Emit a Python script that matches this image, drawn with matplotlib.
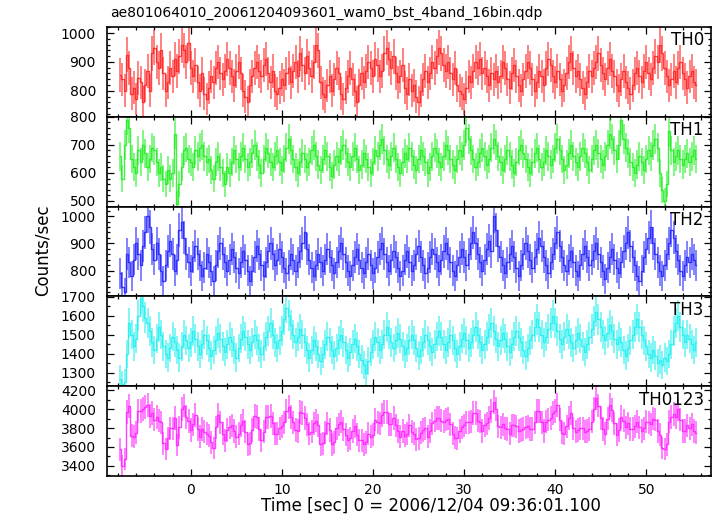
import numpy as np
import matplotlib
matplotlib.use("Agg")
import matplotlib.pyplot as plt
from matplotlib.ticker import MultipleLocator

# light curve, 0.25 s bins, times relative to 2006/12/04 09:36:01.100
t_start = -7.75
bin_size = 0.25

th0 = [855, 840, 800, 925, 880, 790, 810, 770, 845, 830,
       760, 820, 870, 800, 930, 950, 900, 880, 940, 860,
       800, 830, 880, 850, 910, 870, 920, 960, 940, 900,
       965, 880, 850, 890, 830, 800, 860, 790, 770, 810,
       850, 830, 880, 900, 860, 840, 870, 910, 880, 850,
       820, 870, 900, 860, 800, 780, 760, 820, 850, 880,
       900, 870, 850, 890, 910, 860, 830, 870, 800, 790,
       810, 840, 820, 860, 880, 830, 870, 900, 850, 930,
       890, 860, 920, 880, 850, 900, 960, 940, 830, 790,
       780, 820, 850, 800, 840, 880, 860, 790, 770, 810,
       850, 880, 840, 800, 760, 820, 860, 830, 870, 900,
       880, 850, 910, 890, 850, 870, 930, 950, 910, 880,
       920, 860, 830, 850, 890, 810, 790, 840, 800, 820,
       780, 760, 800, 840, 870, 830, 860, 900, 880, 920,
       950, 930, 890, 870, 900, 860, 840, 880, 820, 800,
       790, 770, 810, 850, 830, 870, 900, 880, 910, 860,
       880, 850, 820, 860, 840, 870, 830, 850, 900, 880,
       840, 810, 860, 890, 850, 820, 800, 840, 870, 900,
       880, 840, 800, 830, 870, 850, 820, 880, 910, 890,
       850, 830, 870, 840, 800, 820, 860, 900, 930, 880,
       850, 870, 840, 810, 790, 830, 870, 850, 880, 900,
       930, 890, 860, 840, 880, 910, 870, 850, 820, 800,
       840, 870, 830, 810, 790, 820, 860, 880, 850, 830,
       870, 900, 860, 840, 880, 920, 900, 960, 930, 880,
       850, 820, 840, 870, 830, 880, 900, 860, 840, 810,
       850, 870, 830, 820]

th1 = [660, 580, 700, 790, 760, 650, 620, 600, 680, 640,
       700, 670, 620, 650, 690, 680, 640, 600, 620, 580,
       560, 610, 580, 600, 740, 490, 560, 620, 680, 690,
       650, 640, 620, 680, 660, 690, 700, 660, 640, 650,
       610, 580, 640, 660, 620, 600, 560, 620, 600, 640,
       680, 650, 620, 660, 690, 650, 620, 640, 670, 700,
       660, 630, 600, 650, 690, 670, 640, 620, 660, 680,
       640, 610, 650, 690, 720, 680, 650, 620, 600, 640,
       670, 650, 620, 640, 680, 700, 660, 630, 610, 650,
       680, 660, 620, 590, 630, 660, 640, 680, 700, 670,
       640, 620, 660, 690, 650, 610, 630, 670, 650, 620,
       600, 640, 680, 660, 700, 720, 680, 650, 630, 660,
       690, 650, 620, 600, 640, 670, 650, 690, 660, 630,
       610, 650, 680, 660, 640, 600, 620, 660, 690, 670,
       640, 620, 660, 700, 680, 650, 630, 610, 650, 680,
       660, 700, 760, 720, 680, 650, 620, 640, 670, 690,
       660, 630, 650, 690, 720, 700, 660, 640, 610, 650,
       680, 660, 630, 600, 640, 680, 700, 670, 650, 620,
       600, 640, 670, 690, 650, 620, 640, 680, 660, 630,
       650, 690, 720, 680, 650, 610, 630, 670, 700, 660,
       640, 620, 660, 690, 670, 640, 610, 650, 680, 700,
       670, 650, 630, 660, 700, 740, 720, 680, 650, 700,
       790, 720, 690, 670, 640, 620, 600, 630, 660, 640,
       610, 650, 680, 660, 700, 720, 690, 600, 540, 500,
       560, 750, 680, 640, 660, 680, 650, 630, 650, 670,
       640, 660, 680, 650]

th2 = [790, 740, 720, 860, 830, 780, 840, 900, 860, 820,
       890, 940, 1000, 960, 880, 840, 900, 860, 800, 760,
       820, 870, 910, 860, 800, 840, 950, 980, 920, 860,
       830, 800, 850, 890, 860, 820, 780, 810, 860, 830,
       800, 760, 820, 870, 900, 860, 830, 800, 840, 880,
       850, 810, 790, 830, 870, 840, 800, 760, 800, 850,
       890, 860, 820, 780, 830, 870, 900, 860, 820, 840,
       880, 850, 810, 790, 820, 860, 840, 800, 830, 870,
       900, 940, 880, 840, 810, 780, 820, 860, 830, 800,
       840, 880, 850, 820, 790, 830, 870, 900, 860, 830,
       800, 780, 820, 850, 880, 840, 810, 790, 830, 860,
       820, 790, 810, 850, 880, 900, 860, 830, 800, 840,
       870, 850, 810, 780, 800, 840, 870, 830, 800, 820,
       860, 890, 850, 820, 790, 810, 850, 880, 860, 830,
       800, 840, 870, 900, 860, 830, 800, 780, 820, 850,
       880, 850, 820, 860, 900, 940, 900, 860, 830, 800,
       840, 880, 910, 870, 1000, 950, 890, 850, 820, 790,
       830, 860, 890, 850, 810, 780, 820, 860, 900, 870,
       840, 810, 850, 880, 920, 890, 850, 820, 790, 830,
       860, 900, 940, 890, 850, 820, 800, 840, 870, 830,
       800, 780, 820, 860, 890, 850, 820, 840, 870, 900,
       860, 830, 800, 770, 810, 850, 880, 840, 810, 790,
       830, 870, 900, 940, 890, 850, 820, 780, 760, 800,
       850, 880, 920, 960, 900, 860, 830, 800, 780, 820,
       860, 900, 950, 920, 870, 840, 800, 780, 820, 850,
       830, 860, 840, 820]

th3 = [1270, 1240, 1250, 1400, 1560, 1500, 1440, 1480, 1600, 1690,
       1650, 1590, 1560, 1520, 1460, 1420, 1480, 1540, 1500, 1440,
       1400, 1380, 1430, 1490, 1460, 1420, 1380, 1440, 1500, 1470,
       1430, 1460, 1520, 1480, 1440, 1400, 1450, 1500, 1470, 1430,
       1390, 1420, 1470, 1510, 1480, 1440, 1410, 1450, 1490, 1460,
       1420, 1380, 1430, 1480, 1520, 1490, 1450, 1420, 1460, 1500,
       1470, 1430, 1400, 1440, 1490, 1520, 1560, 1500, 1460, 1430,
       1470, 1520, 1580, 1640, 1600, 1550, 1500, 1460, 1490, 1530,
       1500, 1460, 1420, 1380, 1420, 1470, 1440, 1400, 1360, 1400,
       1450, 1490, 1460, 1420, 1390, 1430, 1470, 1500, 1460, 1420,
       1380, 1410, 1450, 1480, 1440, 1400, 1370, 1340, 1300, 1360,
       1410, 1450, 1490, 1460, 1420, 1450, 1500, 1540, 1500, 1460,
       1430, 1470, 1510, 1480, 1440, 1400, 1430, 1470, 1500, 1470,
       1430, 1390, 1420, 1460, 1500, 1470, 1440, 1410, 1450, 1490,
       1520, 1490, 1450, 1420, 1460, 1500, 1470, 1430, 1400, 1440,
       1480, 1510, 1470, 1430, 1460, 1500, 1540, 1500, 1460, 1420,
       1450, 1490, 1530, 1560, 1520, 1480, 1440, 1470, 1510, 1480,
       1440, 1410, 1450, 1490, 1520, 1490, 1460, 1420, 1390, 1430,
       1470, 1500, 1540, 1580, 1540, 1500, 1460, 1490, 1530, 1560,
       1600, 1560, 1520, 1480, 1450, 1490, 1530, 1500, 1460, 1430,
       1470, 1510, 1480, 1440, 1410, 1450, 1490, 1530, 1570, 1620,
       1580, 1540, 1500, 1470, 1510, 1550, 1520, 1480, 1450, 1490,
       1460, 1420, 1390, 1430, 1470, 1500, 1540, 1580, 1540, 1500,
       1470, 1440, 1400, 1380, 1420, 1390, 1350, 1370, 1340, 1380,
       1360, 1400, 1450, 1520, 1560, 1600, 1540, 1500, 1460, 1500,
       1480, 1450, 1420, 1460]

band_names = ["TH0", "TH1", "TH2", "TH3", "TH0123"]
band_colors = ["#ff2020", "#20ee20", "#2020ff", "#20f0f0", "#ff20ff"]
ylims = [(710, 1021), (480, 800), (705, 1035), (1230, 1701), (3292, 4245)]
ymajor = [100, 100, 100, 100, 200]
yminor = [20, 20, 20, 50, 100]

bands = [np.array(b, dtype=float) for b in (th0, th1, th2, th3)]
bands.append(bands[0] + bands[1] + bands[2] + bands[3])
t = t_start + bin_size * np.arange(len(th0))

plt.rcParams["font.family"] = "DejaVu Sans"
fig = plt.figure(figsize=(7.17, 5.16), dpi=100)

left, right = 107 / 717, 711 / 717
top, bottom = 1 - 27 / 516, 1 - 476 / 516
h = (top - bottom) / 5

for i, (rate, name, col) in enumerate(zip(bands, band_names, band_colors)):
    ax = fig.add_axes([left, top - (i + 1) * h, right - left, h])
    err = np.sqrt(rate * bin_size) / bin_size
    ax.step(t, rate, where="mid", color=col, lw=1.0, alpha=0.85)
    ax.errorbar(t, rate, yerr=err, fmt="none", ecolor=col, elinewidth=1.2, alpha=0.65)

    ax.set_xlim(-9.2, 57.1)
    ax.set_ylim(*ylims[i])
    ax.xaxis.set_major_locator(MultipleLocator(10))
    ax.xaxis.set_minor_locator(MultipleLocator(2))
    ax.yaxis.set_major_locator(MultipleLocator(ymajor[i]))
    ax.yaxis.set_minor_locator(MultipleLocator(yminor[i]))
    ax.tick_params(which="both", direction="in", top=True, right=True, labelsize=10, width=0.9)
    ax.tick_params(axis="y", pad=8)
    ax.tick_params(axis="x", pad=5)
    ax.tick_params(which="major", length=5)
    ax.tick_params(which="minor", length=2.5)
    for s in ax.spines.values():
        s.set_linewidth(1.2)
    if i < 4:
        ax.tick_params(labelbottom=False)
    ax.text(0.988, 0.95, name, transform=ax.transAxes, ha="right", va="top", fontsize=12)

fig.text(110 / 717, 1 - 13 / 516, "ae801064010_20061204093601_wam0_bst_4band_16bin.qdp",
         ha="left", va="center", fontsize=10)
fig.text(43 / 717, 1 - 250 / 516, "Counts/sec", rotation=90, ha="center", va="center", fontsize=12)
fig.text(431 / 717, 1 - 506 / 516, "Time [sec] 0 = 2006/12/04 09:36:01.100",
         ha="center", va="center", fontsize=12)

fig.savefig("out.png", dpi=100)
